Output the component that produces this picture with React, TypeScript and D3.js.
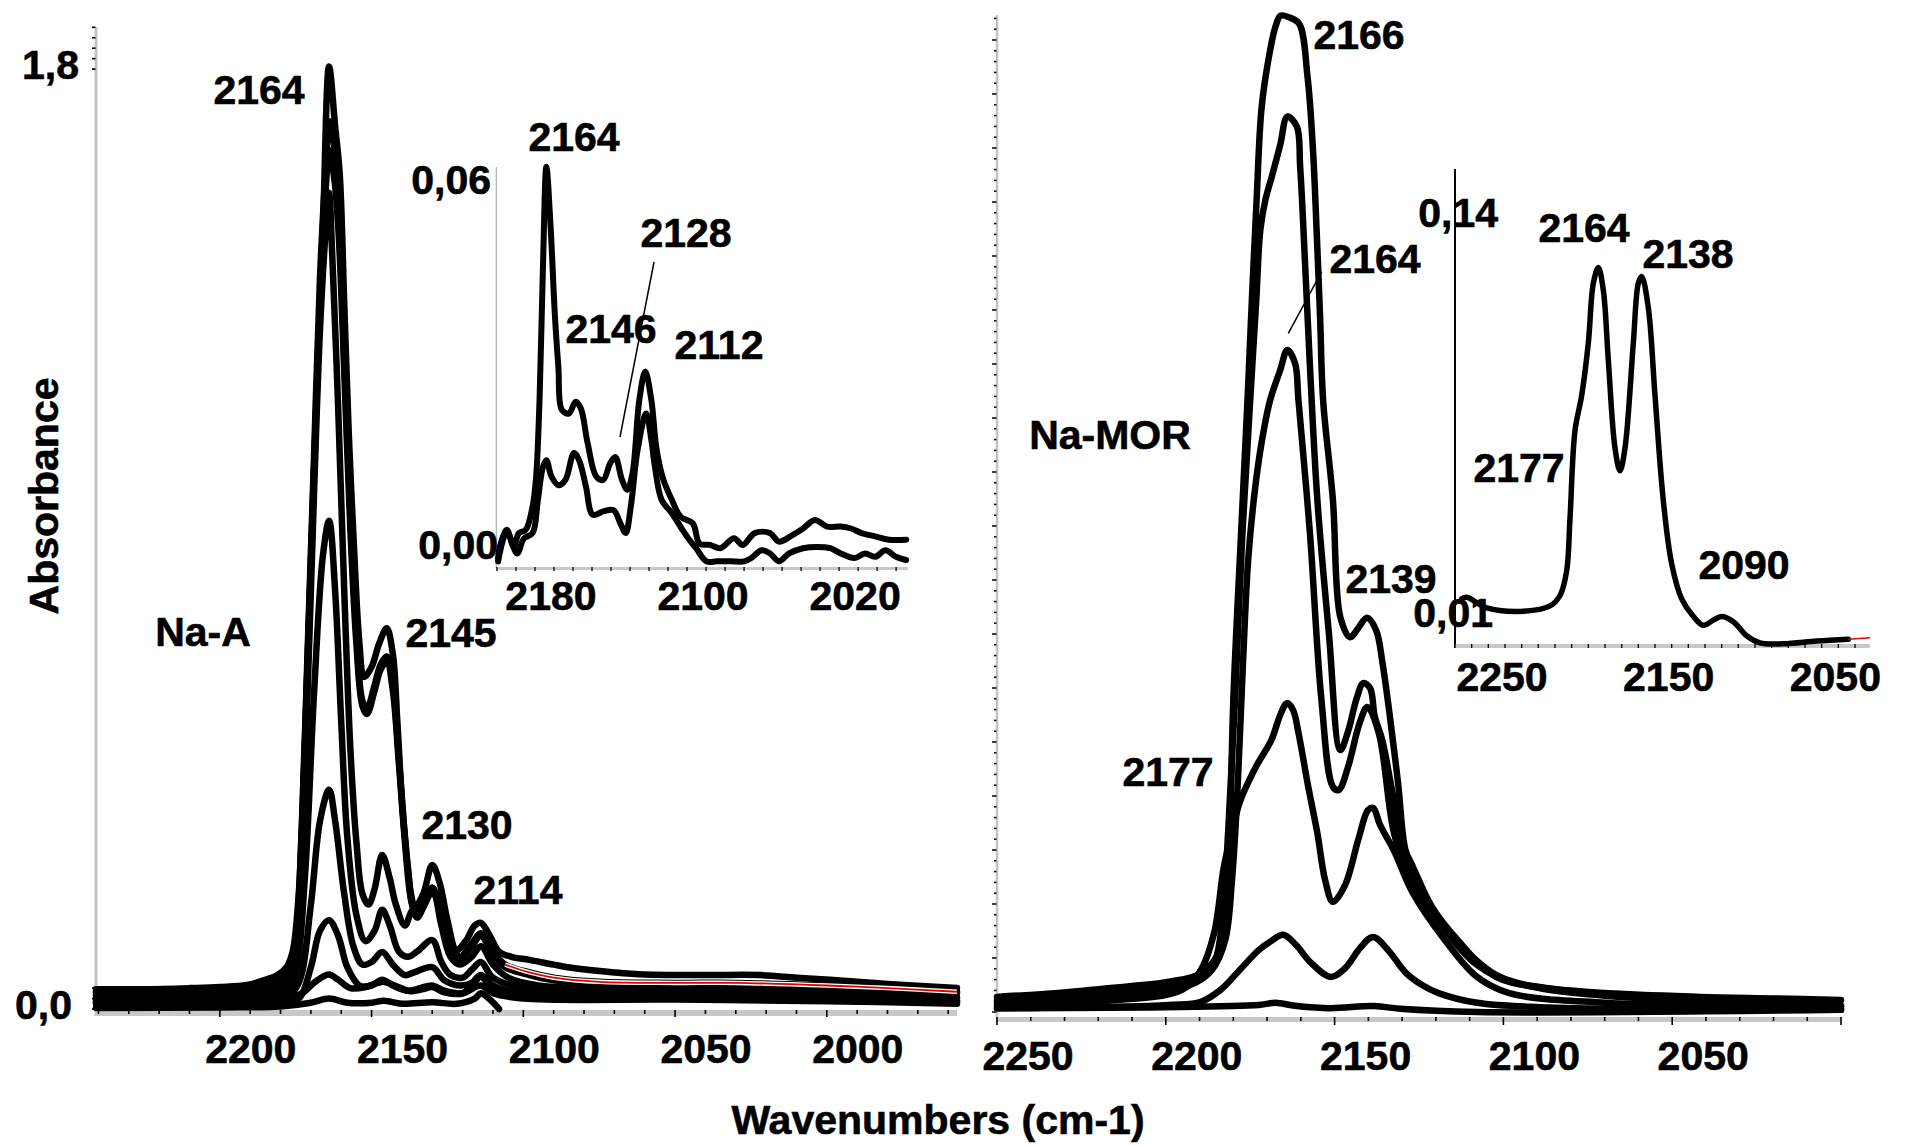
import React from "react";
import * as d3 from "d3";

type Pt = [number, number];

// ---------- Na-A : CO adsorption series (wavenumber cm-1, absorbance) ----------
const naA1: Pt[] = [[2240.8,0.038],[2225,0.038],[2210,0.040],[2200,0.042],[2191,0.046],[2185,0.056],[2181,0.065],[2178,0.08],[2176,0.11],[2174,0.22],[2172,0.5],[2170,0.85],[2168,1.2],[2166,1.5],[2164,1.805],[2162,1.69],[2160.5,1.60],[2159,1.35],[2157.5,1.10],[2156,0.91],[2154,0.70],[2152.5,0.636],[2150,0.655],[2147.5,0.70],[2145,0.729],[2143,0.68],[2141.5,0.55],[2140,0.40],[2138,0.27],[2136,0.193],[2133,0.22],[2130,0.276],[2127.5,0.24],[2125,0.17],[2122,0.113],[2119,0.13],[2116,0.16],[2114,0.165],[2111,0.14],[2108,0.11],[2104,0.10],[2098,0.094],[2090,0.085],[2083,0.078],[2070,0.07],[2060,0.066],[2040,0.065],[2022,0.065],[2010,0.06],[1999,0.056],[1980,0.048],[1957.1,0.040]];
const naA2: Pt[] = [[2240.8,0.033],[2210,0.034],[2195,0.037],[2185,0.045],[2180,0.055],[2177,0.075],[2175,0.13],[2173,0.35],[2171,0.7],[2169,1.05],[2167,1.4],[2165,1.62],[2164,1.70],[2162.5,1.66],[2161,1.55],[2159,1.25],[2157,0.95],[2155,0.72],[2153,0.59],[2151.5,0.576],[2149,0.62],[2147,0.66],[2145,0.675],[2143,0.62],[2141,0.48],[2139,0.33],[2137,0.22],[2135,0.18],[2132.5,0.205],[2130,0.232],[2127,0.19],[2124,0.13],[2121,0.10],[2117,0.125],[2114,0.145],[2110,0.11],[2106,0.085],[2098,0.07],[2090,0.06],[2075,0.052],[2050,0.05],[2030,0.05],[2000,0.045],[1980,0.04],[1957.1,0.033]];
const naA3: Pt[] = [[2240.8,0.03],[2200,0.032],[2185,0.04],[2178,0.06],[2175,0.12],[2173,0.33],[2171,0.68],[2169,1.02],[2167,1.35],[2165,1.58],[2164,1.645],[2162.5,1.60],[2161,1.50],[2159,1.22],[2157,0.92],[2155,0.70],[2153,0.58],[2151.5,0.565],[2149,0.61],[2147,0.65],[2145,0.665],[2143,0.61],[2141,0.47],[2139,0.32],[2137,0.21],[2135,0.175],[2132.5,0.2],[2130,0.225],[2127,0.18],[2124,0.125],[2121,0.095],[2117,0.12],[2114,0.14],[2110,0.105],[2106,0.08],[2098,0.065],[2090,0.055],[2075,0.048],[2050,0.046],[2000,0.04],[1957.1,0.03]];
const naA4: Pt[] = [[2240.8,0.025],[2200,0.026],[2185,0.032],[2178,0.045],[2175,0.1],[2173,0.3],[2171,0.62],[2169,0.98],[2167,1.3],[2165,1.5],[2164,1.563],[2163,1.45],[2161,1.15],[2159,0.8],[2157,0.5],[2155,0.32],[2153,0.22],[2151,0.2],[2149,0.23],[2146.5,0.295],[2144,0.25],[2142,0.2],[2139,0.16],[2136.5,0.19],[2133,0.2],[2130,0.232],[2127,0.16],[2124,0.1],[2121,0.085],[2117,0.1],[2114,0.12],[2110,0.085],[2105,0.06],[2095,0.045],[2080,0.04],[2050,0.035],[2000,0.03],[1957.1,0.022]];
const naA5: Pt[] = [[2240.8,0.02],[2200,0.02],[2185,0.025],[2178,0.035],[2175,0.07],[2172,0.25],[2169,0.6],[2166,0.87],[2164,0.935],[2162,0.8],[2160,0.55],[2158,0.33],[2155,0.18],[2152,0.13],[2149,0.15],[2146.5,0.19],[2144,0.16],[2141,0.11],[2138,0.1],[2135,0.11],[2130,0.132],[2127,0.09],[2124,0.065],[2120,0.06],[2117,0.075],[2114,0.09],[2110,0.06],[2100,0.04],[2080,0.032],[2050,0.03],[2000,0.025],[1957.1,0.02]];
const naA6: Pt[] = [[2240.8,0.015],[2200,0.015],[2185,0.017],[2178,0.022],[2174,0.05],[2170,0.2],[2167,0.36],[2164,0.42],[2162,0.36],[2159,0.22],[2156,0.12],[2153,0.085],[2150,0.09],[2146.5,0.109],[2143,0.085],[2139,0.065],[2136,0.07],[2130,0.08],[2126,0.055],[2121,0.045],[2117,0.05],[2114,0.065],[2110,0.045],[2100,0.03],[2050,0.025],[2000,0.02],[1957.1,0.015]];
const naA7: Pt[] = [[2240.8,0.01],[2200,0.01],[2180,0.012],[2174,0.02],[2170,0.08],[2167,0.15],[2164,0.17],[2161,0.14],[2158,0.08],[2154,0.045],[2150,0.045],[2146.5,0.056],[2143,0.045],[2138,0.035],[2134,0.04],[2130,0.045],[2126,0.035],[2120,0.03],[2114,0.045],[2110,0.03],[2100,0.02],[2050,0.018],[2000,0.015],[1957.1,0.01]];
const naA8: Pt[] = [[2240.8,0.012],[2200,0.013],[2185,0.015],[2178,0.02],[2173,0.03],[2169,0.05],[2166,0.062],[2164,0.066],[2161,0.056],[2157,0.04],[2152,0.042],[2148,0.05],[2146,0.052],[2142,0.044],[2137,0.034],[2133,0.038],[2130,0.042],[2126,0.032],[2120,0.03],[2117,0.045],[2114,0.062],[2111,0.045],[2106,0.03],[2095,0.024],[2070,0.02],[2040,0.02],[2000,0.018],[1957.1,0.014]];
const naA9: Pt[] = [[2240.8,0.002],[2200,0.003],[2180,0.005],[2170,0.012],[2164,0.02],[2158,0.012],[2150,0.012],[2146,0.016],[2140,0.01],[2130,0.013],[2122,0.01],[2116,0.02],[2114,0.03],[2111,0.018],[2108,0.0]];
const naASeries: Pt[][] = [naA9, naA8, naA7, naA6, naA5, naA4, naA3, naA2, naA1];

// Na-A, low-coverage detail (inset)
const naAInsetHigh: Pt[] = [[2189.4,0.0006],[2188.5,0.0023],[2184.8,0.0049],[2181.2,0.0023],[2178.5,0.0044],[2174.9,0.0049],[2171.3,0.0084],[2169.4,0.013],[2167.6,0.0247],[2165.8,0.045],[2164.0,0.0602],[2161.8,0.0511],[2159.5,0.0374],[2157.7,0.0297],[2155.9,0.0232],[2152.2,0.0226],[2148.6,0.0244],[2145.9,0.0234],[2142.3,0.0181],[2137.7,0.013],[2134.1,0.0125],[2130.5,0.015],[2127.8,0.016],[2124.2,0.0125],[2121.4,0.011],[2118.7,0.0135],[2115.1,0.0247],[2112.0,0.029],[2108.8,0.0247],[2106.0,0.0171],[2102.4,0.0125],[2097.9,0.0094],[2093.4,0.0069],[2087.0,0.0059],[2083.4,0.0028],[2077.9,0.0026],[2072.5,0.0021],[2065.3,0.0036],[2060.7,0.0026],[2054.4,0.0044],[2046.3,0.0044],[2041.7,0.0031],[2034.5,0.0041],[2029.0,0.0051],[2022.7,0.0064],[2016.4,0.0054],[2009.1,0.0054],[2003.7,0.0051],[1998.2,0.0044],[1991.0,0.0039],[1983.8,0.0034],[1974.7,0.0034]];
const naAInsetLow: Pt[] = [[2189.4,0.0001],[2184.8,0.0046],[2179.4,0.0013],[2175.8,0.0036],[2171.3,0.0044],[2168.5,0.0094],[2165.8,0.0145],[2164.0,0.0155],[2161.3,0.013],[2157.7,0.0117],[2154.0,0.0125],[2149.5,0.0166],[2146.8,0.0155],[2143.2,0.0115],[2139.6,0.0072],[2134.1,0.0077],[2128.7,0.0079],[2125.1,0.0059],[2122.3,0.0044],[2119.6,0.0084],[2116.0,0.0171],[2111.5,0.0226],[2108.8,0.0186],[2106.9,0.0145],[2103.3,0.0094],[2097.9,0.0074],[2092.4,0.0049],[2088.8,0.0034],[2085.2,0.0021],[2079.8,0.0001],[2074.3,0.0001],[2067.1,0.0001],[2059.8,0.0001],[2056.2,0.0006],[2050.8,0.0018],[2046.3,0.0013],[2041.7,0.0001],[2036.3,0.0013],[2029.0,0.0021],[2021.8,0.0023],[2014.6,0.0021],[2009.1,0.0013],[2001.9,0.0006],[1996.4,0.0013],[1991.0,0.0008],[1985.6,0.0018],[1980.1,0.0008],[1974.7,0.0003]];

// ---------- Na-MOR : CO adsorption series ----------
const naMOR1: Pt[] = [[2250,0.028],[2235,0.034],[2221.9,0.041],[2210,0.048],[2199,0.056],[2189.6,0.072],[2183.8,0.115],[2181.9,0.207],[2181,0.331],[2180,0.578],[2177.7,0.887],[2175.8,1.133],[2174.5,1.319],[2173.1,1.504],[2171.6,1.676],[2169.1,1.781],[2167.5,1.825],[2166,1.845],[2163.5,1.842],[2160.5,1.83],[2158,1.731],[2156.4,1.596],[2155.3,1.443],[2154.3,1.287],[2153.4,1.133],[2150.5,0.948],[2148.3,0.731],[2145.4,0.694],[2143,0.711],[2140.4,0.73],[2137.7,0.707],[2135.8,0.646],[2133.6,0.546],[2131.2,0.424],[2129,0.30],[2126.8,0.269],[2121.1,0.194],[2113.5,0.133],[2102.2,0.065],[2088.8,0.046],[2069.9,0.035],[2041.7,0.028],[2018.9,0.025],[2000,0.022]];
const naMOR2: Pt[] = [[2250,0.022],[2221.9,0.031],[2199,0.046],[2189.6,0.063],[2185.4,0.096],[2183.3,0.17],[2181.5,0.337],[2179.5,0.578],[2177.4,0.874],[2175,1.133],[2173.2,1.319],[2172,1.448],[2170.5,1.504],[2168.6,1.547],[2166.1,1.606],[2164,1.658],[2161.2,1.64],[2160.2,1.565],[2158.7,1.38],[2157.3,1.195],[2155.1,0.948],[2151.7,0.702],[2148.3,0.485],[2146,0.52],[2143.5,0.58],[2141.5,0.609],[2139.5,0.60],[2138.1,0.547],[2135.9,0.504],[2133,0.411],[2129.1,0.291],[2124.7,0.226],[2117.3,0.152],[2107.8,0.087],[2098,0.056],[2083.2,0.041],[2056.5,0.030],[2026.9,0.020],[2000,0.011]];
const naMOR3: Pt[] = [[2250,0.019],[2219.5,0.03],[2192.8,0.05],[2186.3,0.078],[2182.4,0.133],[2180.4,0.244],[2178.9,0.393],[2177.1,0.652],[2175.6,0.837],[2173.6,0.967],[2171.5,1.059],[2169.1,1.133],[2166.1,1.189],[2164,1.226],[2161.7,1.201],[2160.7,1.133],[2157.3,0.886],[2153.9,0.578],[2150.5,0.417],[2148.8,0.411],[2146,0.454],[2142.6,0.535],[2140.3,0.565],[2136.9,0.516],[2132.4,0.331],[2127.6,0.244],[2121.7,0.189],[2112.8,0.124],[2102.2,0.069],[2089.1,0.044],[2071.3,0.031],[2041.7,0.019],[2000,0.011]];
const naMOR4: Pt[] = [[2250,0.013],[2221.9,0.019],[2195.2,0.041],[2189.6,0.078],[2185.7,0.146],[2182.8,0.269],[2180.5,0.33],[2178,0.39],[2173.3,0.454],[2168.7,0.504],[2166.1,0.55],[2164.1,0.572],[2162.3,0.559],[2160.7,0.517],[2157.9,0.42],[2155.1,0.331],[2152.8,0.244],[2150.5,0.204],[2146.9,0.235],[2143,0.319],[2140.1,0.374],[2138.6,0.378],[2136.5,0.346],[2132.5,0.30],[2126.8,0.22],[2117.3,0.133],[2107.8,0.065],[2098.3,0.035],[2069.9,0.017],[2000,0.007]];
const naMOR5: Pt[] = [[2250,0.007],[2199,0.013],[2189.6,0.019],[2183.8,0.041],[2178.1,0.078],[2172.4,0.115],[2169.1,0.13],[2165.2,0.143],[2161.4,0.124],[2157.3,0.093],[2151.1,0.065],[2146.9,0.081],[2142.4,0.119],[2138.6,0.139],[2134.2,0.115],[2128.8,0.072],[2124.1,0.05],[2119.2,0.035],[2107.8,0.017],[2089.1,0.009],[2000,0.004]];
const naMOR6: Pt[] = [[2250,0.007],[2172.4,0.013],[2167.6,0.017],[2161.1,0.011],[2151.3,0.007],[2138.3,0.011],[2130.6,0.006],[2107.8,0.0],[2000,0.004]];
const naMORSeries: Pt[][] = [naMOR6, naMOR5, naMOR4, naMOR3, naMOR2, naMOR1];

// Na-MOR, low-coverage detail (inset)
const naMORInset: Pt[] = [[2246,0.0146],[2243,0.0151],[2231,0.0117],[2209,0.0106],[2193,0.0123],[2187,0.0157],[2183,0.0237],[2181,0.0408],[2178,0.0693],[2174,0.0807],[2170,0.0978],[2167,0.1172],[2164,0.1223],[2161,0.1149],[2158,0.0921],[2154,0.0636],[2151,0.0562],[2148,0.0636],[2143,0.0978],[2140,0.1172],[2138,0.1194],[2134,0.1092],[2130,0.0807],[2125,0.0465],[2120,0.026],[2114,0.0146],[2107,0.0089],[2101,0.006],[2095,0.0077],[2090,0.0089],[2083,0.0072],[2075,0.0026],[2067,0.0003],[2053,0.0],[2033,0.0009],[2014,0.0015]];
const naMORInsetTail: Pt[] = [[2014,0.0015],[2001,0.002]];

// ---------- axis ticks and labels ----------
const naATickLabels = [2200, 2150, 2100, 2050, 2000];
const naMORTickLabels = [2250, 2200, 2150, 2100, 2050];
const naAInsetTickLabels = [2180, 2100, 2020];
const naMORInsetTickLabels = [2250, 2150, 2050];
const naAYLabels: [number, string][] = [[1.8, "1,8"], [0, "0,0"]];
const naAInsetYLabels: [number, string][] = [[0.06, "0,06"], [0, "0,00"]];
const naMORInsetYLabels: [number, string][] = [[0.14, "0,14"], [0.01, "0,01"]];

const FONT = "'Liberation Sans', Arial, Helvetica, sans-serif";
const FS = 41;

function linePath(data: Pt[], x: d3.ScaleLinear<number, number>, y: d3.ScaleLinear<number, number>) {
  return (
    d3
      .line<Pt>()
      .x((d) => x(d[0]))
      .y((d) => y(d[1]))
      .curve(d3.curveCatmullRom.alpha(0.5))(data) ?? ""
  );
}

function T(props: { x: number; y: number; anchor?: "start" | "middle" | "end"; children: React.ReactNode; transform?: string }) {
  return (
    <text
      x={props.x}
      y={props.y}
      textAnchor={props.anchor ?? "middle"}
      dominantBaseline="central"
      fontFamily={FONT}
      fontWeight="bold"
      fontSize={FS}
      fill="#000"
      stroke="#000"
      strokeWidth={0.6}
      transform={props.transform}
    >
      {props.children}
    </text>
  );
}

export default function App() {
  const W = 1905;
  const H = 1145;

  // main panels
  const xA = d3.scaleLinear().domain([2240.8, 1957.1]).range([96, 957]);
  const yA = d3.scaleLinear().domain([0, 1.88]).range([1009, 27.3]);
  const xM = d3.scaleLinear().domain([2250, 2000]).range([997, 1841]);
  const yM = d3.scaleLinear().domain([0, 1.85]).range([1012, 13]);
  // insets
  const xAi = d3.scaleLinear().domain([2190.3, 1973.8]).range([496.4, 907.9]);
  const yAi = d3.scaleLinear().domain([0, 0.06]).range([562, 168]);
  const xMi = d3.scaleLinear().domain([2250, 2001]).range([1455, 1870]);
  const yMi = d3.scaleLinear().domain([0, 0.14]).range([643.8, 213]);

  const aTicks = d3.range(2240, 1955, -10);
  const mTicks = d3.range(2250, 1999, -10);
  const aiTicks = d3.range(2190, 1973, -10);
  const miTicks = d3.range(2250, 2000, -10);
  const mYTicks = d3.range(0, 1.85, 0.02);
  const aYTicksTop = [1.8, 1.82, 1.84, 1.86, 1.88];
  const aYTicksBottom = [0, 0.02, 0.04];

  const redTail = naA2.filter((d) => d[0] <= 2108);

  const curve = { fill: "none", stroke: "#000", strokeLinejoin: "round" as const, strokeLinecap: "round" as const };

  return (
    <svg
      width={W}
      height={H}
      viewBox={`0 0 ${W} ${H}`}
      style={{ position: "absolute", left: 0, top: 0, background: "#fff" }}
    >
      <rect x={0} y={0} width={W} height={H} fill="#fff" />

      {/* ===== Na-A main panel axes ===== */}
      <rect x={94.5} y={27} width={3} height={989} fill="#c4c4c4" />
      {[...aYTicksTop, ...aYTicksBottom].map((v) => (
        <line key={"ay" + v} x1={92} x2={95.5} y1={yA(v)} y2={yA(v)} stroke="#000" strokeWidth={1.6} />
      ))}
      <rect x={96} y={1010} width={861} height={6} fill="#c8c8c8" />
      {aTicks.map((v) => (
        <line key={"ax" + v} x1={xA(v)} x2={xA(v)} y1={1010} y2={v % 50 === 0 ? 1017 : 1014} stroke="#000" strokeWidth={1.6} />
      ))}
      {naATickLabels.map((v) => (
        <T key={"axl" + v} x={xA(v) + 31} y={1049}>{String(v)}</T>
      ))}
      {naAYLabels.map(([v, s]) => (
        <T key={"ayl" + s} x={v > 1 ? 79 : 72} y={yA(v) - 4} anchor="end">{s}</T>
      ))}
      <T x={44} y={496} transform="rotate(-90 44 496)">Absorbance</T>

      {/* ===== Na-MOR main panel axes ===== */}
      <line x1={997} x2={997} y1={15} y2={1022} stroke="#c4c4c4" strokeWidth={2.5} />
      {mYTicks.map((v, i) => (
        <line key={"my" + i} x1={i % 5 === 0 ? 992 : 994} x2={996.5} y1={yM(v)} y2={yM(v)} stroke="#000" strokeWidth={1.5} />
      ))}
      <rect x={997} y={1017} width={844} height={5} fill="#c8c8c8" />
      {mTicks.map((v) => (
        <line key={"mx" + v} x1={xM(v)} x2={xM(v)} y1={1017} y2={v % 50 === 0 ? 1025 : 1021} stroke="#000" strokeWidth={1.6} />
      ))}
      {naMORTickLabels.map((v) => (
        <T key={"mxl" + v} x={xM(v) + 31} y={1056}>{String(v)}</T>
      ))}

      <T x={938} y={1120}>Wavenumbers (cm-1)</T>

      {/* ===== annotations, Na-A ===== */}
      <T x={203} y={632}>Na-A</T>
      <T x={259} y={90}>2164</T>
      <T x={451} y={633}>2145</T>
      <T x={467} y={825}>2130</T>
      <T x={518} y={890}>2114</T>

      {/* ===== Na-A inset ===== */}
      <line x1={496.4} x2={496.4} y1={167} y2={568} stroke="#b8b8b8" strokeWidth={1.5} />
      <line x1={496.4} x2={907.9} y1={568.5} y2={568.5} stroke="#c8c8c8" strokeWidth={3} />
      {aiTicks.map((v) => (
        <line key={"aix" + v} x1={xAi(v)} x2={xAi(v)} y1={567} y2={571} stroke="#000" strokeWidth={1.3} />
      ))}
      {naAInsetTickLabels.map((v) => (
        <T key={"aixl" + v} x={xAi(v) + 35} y={596}>{String(v)}</T>
      ))}
      {naAInsetYLabels.map(([v, s]) => (
        <T key={"aiyl" + s} x={v > 0 ? 491 : 498} y={v > 0 ? yAi(v) + 12 : yAi(v) - 17} anchor="end">{s}</T>
      ))}
      <T x={574} y={137}>2164</T>
      <T x={686} y={233}>2128</T>
      <T x={611} y={329}>2146</T>
      <T x={719} y={345}>2112</T>
      <line x1={654} y1={262} x2={620} y2={437} stroke="#000" strokeWidth={1.5} />

      {/* ===== annotations, Na-MOR ===== */}
      <T x={1359} y={35}>2166</T>
      <T x={1375} y={259}>2164</T>
      <line x1={1321.7} y1={271.7} x2={1288.3} y2={333.3} stroke="#000" strokeWidth={1.5} />
      <T x={1110} y={435}>Na-MOR</T>
      <T x={1391} y={579}>2139</T>
      <T x={1168} y={772}>2177</T>

      {/* ===== Na-MOR inset ===== */}
      <line x1={1455} x2={1455} y1={169} y2={648} stroke="#000" strokeWidth={2} />
      <rect x={1455} y={644} width={415} height={4} fill="#c8c8c8" />
      {miTicks.map((v) => (
        <line key={"mix" + v} x1={xMi(v)} x2={xMi(v)} y1={644} y2={648} stroke="#000" strokeWidth={1.3} />
      ))}
      {naMORInsetTickLabels.map((v) => (
        <T key={"mixl" + v} x={xMi(v) + 47} y={677}>{String(v)}</T>
      ))}
      {naMORInsetYLabels.map(([v, s]) => (
        <T key={"miyl" + s} x={v > 0.1 ? 1498 : 1493} y={yMi(v)} anchor="end">{s}</T>
      ))}
      <T x={1584} y={228}>2164</T>
      <T x={1688} y={254}>2138</T>
      <T x={1519} y={468}>2177</T>
      <T x={1744} y={565}>2090</T>

      {/* ===== spectra ===== */}
      <g {...curve} strokeWidth={6.5}>
        {naASeries.map((s, i) => (
          <path key={"a" + i} d={linePath(s, xA, yA)} />
        ))}
      </g>
      <path d={linePath(redTail, xA, yA)} fill="none" stroke="#fff" strokeWidth={4.5} />
      <path d={linePath(redTail, xA, yA)} fill="none" stroke="#e00000" strokeWidth={1.8} />

      <g {...curve} strokeWidth={6}>
        <path d={linePath(naAInsetHigh, xAi, yAi)} />
        <path d={linePath(naAInsetLow, xAi, yAi)} />
      </g>

      <g {...curve} strokeWidth={6.5}>
        {naMORSeries.map((s, i) => (
          <path key={"m" + i} d={linePath(s, xM, yM)} />
        ))}
      </g>

      <g {...curve} strokeWidth={5.5}>
        <path d={linePath(naMORInset, xMi, yMi)} />
      </g>
      <path d={linePath(naMORInsetTail, xMi, yMi)} fill="none" stroke="#e00000" strokeWidth={1.5} />
    </svg>
  );
}
